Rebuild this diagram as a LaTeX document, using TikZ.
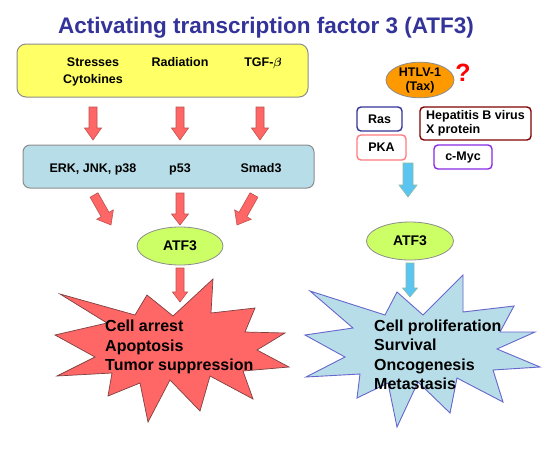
\documentclass[tikz,border=0pt]{standalone}
\usepackage{amsmath}
\usepackage{fontspec}
\setmainfont{Liberation Sans}
\usetikzlibrary{calc,shapes.geometric}
\definecolor{titleblue}{HTML}{333399}
\definecolor{boxgray}{HTML}{8C8C8C}
\definecolor{stimyellow}{HTML}{FFFF66}
\definecolor{sigblue}{HTML}{B7DEE8}
\definecolor{atfgreen}{HTML}{CCFF66}
\definecolor{redfill}{HTML}{FF6666}
\definecolor{redline}{HTML}{C0504D}
\definecolor{stardark}{HTML}{7F4040}
\definecolor{bluestarline}{HTML}{6666CC}
\definecolor{cyanfill}{HTML}{5BC5F2}
\definecolor{cyanline}{HTML}{8FBC9F}
\definecolor{htlvorange}{HTML}{FF9900}
\definecolor{rasblue}{HTML}{333399}
\definecolor{pkapink}{HTML}{FF7C80}
\definecolor{hbvred}{HTML}{800000}
\definecolor{mycpurple}{HTML}{8A2BE2}
\newcommand{\myblockarrow}[6]{%
  \coordinate (bah) at ($(#3)!#6!(#2)$);
  \filldraw[#1] ($(#2)!#4!90:(#3)$) -- ($(bah)!#4!90:(#3)$) -- ($(bah)!#5!90:(#3)$)
    -- (#3) -- ($(bah)!#5!-90:(#3)$) -- ($(bah)!#4!-90:(#3)$) -- ($(#2)!#4!-90:(#3)$) -- cycle;
}
\begin{document}
\begin{tikzpicture}[x=1pt,y=-1pt,
  titlestyle/.style={font=\fontsize{22.5}{27}\selectfont\bfseries, text=titleblue, inner sep=0pt},
  lbl/.style={font=\fontsize{12.5}{14}\selectfont\bfseries, inner sep=0pt},
  stimbox/.style={draw=boxgray, fill=stimyellow, line width=1pt, rounded corners=9pt, minimum width=291pt, minimum height=53pt},
  sigbox/.style={draw=boxgray, fill=sigblue, line width=1pt, rounded corners=7pt, minimum width=291pt, minimum height=43pt},
  atf/.style={ellipse, draw=boxgray, fill=atfgreen, line width=0.8pt, minimum width=86pt, minimum height=38pt, inner sep=0pt, font=\fontsize{14}{16}\selectfont\bfseries},
  redarrow/.style={fill=redfill, draw=redline, line width=0.6pt},
  cyanarrow/.style={fill=cyanfill, draw=cyanline, line width=0.6pt},
  redstar/.style={fill=redfill, draw=stardark, line width=0.7pt, line join=miter},
  bluestar/.style={fill=sigblue, draw=bluestarline, line width=0.9pt, line join=miter},
  startext/.style={font=\fontsize{16}{19}\selectfont\bfseries, inner sep=0pt, anchor=base west},
  smallbox/.style={draw=#1, fill=white, line width=1.4pt, rounded corners=4pt, font=\fontsize{12.5}{14}\selectfont\bfseries, inner sep=0pt}
]
\fill[white] (0,0) rectangle (547,451);
\useasboundingbox (0,0) rectangle (547,451);

% title
\node[titlestyle, anchor=base] (title) at (266,33) {Activating transcription factor 3 (ATF3)};

% stimulus box
\node[stimbox] (stim) at (162.5,70.5) {};
\node[lbl, anchor=base] (stress) at (93,66.5) {Stresses};
\node[lbl, anchor=base] (cyto) at (93,83.5) {Cytokines};
\node[lbl, anchor=base] (rad) at (180,66.5) {Radiation};
\node[lbl, anchor=base] (tgf) at (263,66.5) {TGF-$\boldsymbol{\beta}$};

% red arrows stimulus -> signalling
\coordinate (a1s) at (93,107);  \coordinate (a1e) at (93,140);
\coordinate (a2s) at (180,107); \coordinate (a2e) at (180,140);
\coordinate (a3s) at (260,107); \coordinate (a3e) at (260,140);
\myblockarrow{redarrow}{a1s}{a1e}{4pt}{8.5pt}{12pt}
\myblockarrow{redarrow}{a2s}{a2e}{4pt}{8.5pt}{12pt}
\myblockarrow{redarrow}{a3s}{a3e}{4pt}{8.5pt}{12pt}

% signalling box
\node[sigbox] (sig) at (168.5,166.5) {};
\node[lbl, anchor=base] (erk) at (93,172.5) {ERK, JNK, p38};
\node[lbl, anchor=base] (p53) at (180,172.5) {p53};
\node[lbl, anchor=base] (smad) at (261,172.5) {Smad3};

% arrows signalling -> ATF3
\coordinate (b1s) at (94,195);  \coordinate (b1e) at (111,225);
\coordinate (b2s) at (180,193); \coordinate (b2e) at (180,225);
\coordinate (b3s) at (254,195); \coordinate (b3e) at (237,225);
\myblockarrow{redarrow}{b1s}{b1e}{4.5pt}{9.5pt}{12pt}
\myblockarrow{redarrow}{b2s}{b2e}{4pt}{8.5pt}{11pt}
\myblockarrow{redarrow}{b3s}{b3e}{4.5pt}{9.5pt}{12pt}

% left ATF3
\node[atf] (atfL) at (180,246) {ATF3};
\coordinate (c1s) at (180,268); \coordinate (c1e) at (180,302);
\myblockarrow{redarrow}{c1s}{c1e}{4pt}{7.5pt}{10pt}

% left starburst
\filldraw[redstar] (60,294) -- (135,315) -- (147,295) -- (173,316) -- (213,279) -- (211,313)
  -- (255,308) -- (245,332) -- (285,333) -- (257,350) -- (289,367) -- (243,371)
  -- (253,399) -- (210,376) -- (200,411) -- (170,380) -- (148,422) -- (140,383)
  -- (108,396) -- (112,373) -- (57,376) -- (95,357) -- (55,335) -- (107,323) -- cycle;
\node[startext] (arrest) at (105,331.5) {Cell arrest};
\node[startext] (apop) at (105,351) {Apoptosis};
\node[startext] (tumor) at (105,370.5) {Tumor suppression};

% right side
\node[ellipse, draw=boxgray, fill=htlvorange, line width=0.8pt, minimum width=68pt, minimum height=34pt, inner sep=0pt, align=center, font=\fontsize{12.5}{14}\selectfont\bfseries] (htlv) at (420,80) {HTLV-1\\(Tax)};
\node[text=red, font=\fontsize{25}{28}\selectfont\bfseries, inner sep=0pt] (q) at (463,73) {?};

\node[smallbox=rasblue, minimum width=45pt, minimum height=24pt] (ras) at (379.5,119) {Ras};
\node[smallbox=pkapink, minimum width=49pt, minimum height=25pt] (pka) at (381.5,147.5) {PKA};
\node[smallbox=hbvred, minimum width=111pt, minimum height=33pt, align=left] (hbv) at (475.5,123.5) {Hepatitis B virus\\X protein};
\node[smallbox=mycpurple, minimum width=58pt, minimum height=24pt] (myc) at (463,157) {c-Myc};

\coordinate (d1s) at (408,163); \coordinate (d1e) at (408,197);
\myblockarrow{cyanarrow}{d1s}{d1e}{5pt}{9pt}{12pt}

\node[atf, minimum width=87pt] (atfR) at (410,241) {ATF3};
\coordinate (d2s) at (410,263); \coordinate (d2e) at (410,297);
\myblockarrow{cyanarrow}{d2s}{d2e}{4pt}{7.5pt}{9pt}

% right starburst
\filldraw[bluestar] (310,291) -- (385,315) -- (397,292) -- (423,315) -- (463,275) -- (463,312)
  -- (514,306) -- (500,332) -- (535,332) -- (497,349) -- (540,367) -- (493,370)
  -- (503,402) -- (457,378) -- (450,413) -- (418,382) -- (397,427) -- (388,383)
  -- (357,398) -- (360,374) -- (306,377) -- (345,357) -- (305,335) -- (353,328) -- cycle;
\node[startext] (prolif) at (374,331.5) {Cell proliferation};
\node[startext] (surv) at (374,350.8) {Survival};
\node[startext] (onco) at (374,370.1) {Oncogenesis};
\node[startext] (meta) at (374,389.4) {Metastasis};
\end{tikzpicture}
\end{document}
